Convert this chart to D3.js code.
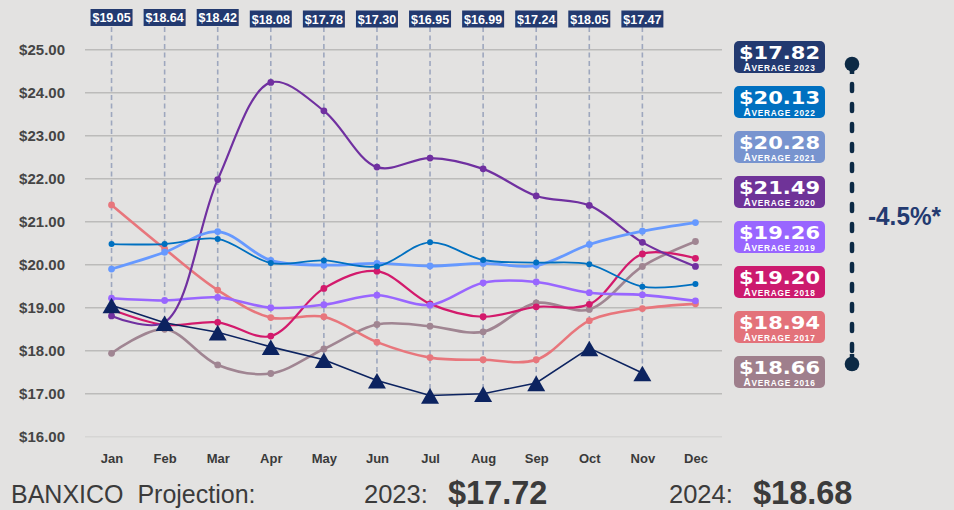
<!DOCTYPE html>
<html>
<head>
<meta charset="utf-8">
<script src="https://cdn.jsdelivr.net/npm/d3@7"></script>
<style>
  html, body { margin: 0; padding: 0; background: #e3e2e1; }
  svg { display: block; font-family: "Liberation Sans", Arial, sans-serif; }
</style>
</head>
<body>
<svg id="chart" width="954" height="510"></svg>
<script>
// Monthly average exchange rate (MXN per USD), 2016–2023
const months = ["Jan","Feb","Mar","Apr","May","Jun","Jul","Aug","Sep","Oct","Nov","Dec"];

const v2023 = [19.05, 18.64, 18.42, 18.08, 17.78, 17.30, 16.95, 16.99, 17.24, 18.05, 17.47];
const v2022 = [20.47, 20.47, 20.59, 20.03, 20.09, 19.95, 20.51, 20.10, 20.04, 20.00, 19.48, 19.54];
const v2021 = [19.89, 20.28, 20.76, 20.09, 19.98, 20.02, 19.96, 20.02, 19.97, 20.46, 20.77, 20.97];
const v2020 = [18.80, 18.65, 21.97, 24.23, 23.57, 22.26, 22.47, 22.22, 21.59, 21.37, 20.51, 19.95];
const v2019 = [19.21, 19.16, 19.23, 18.99, 19.06, 19.28, 19.05, 19.57, 19.59, 19.34, 19.29, 19.15];
const v2018 = [18.95, 18.59, 18.65, 18.33, 19.44, 19.84, 19.08, 18.78, 19.01, 19.07, 20.24, 20.14];
const v2017 = [21.38, 20.36, 19.40, 18.76, 18.78, 18.19, 17.83, 17.78, 17.78, 18.69, 18.97, 19.08];
const v2016 = [17.93, 18.49, 17.66, 17.46, 18.03, 18.60, 18.56, 18.43, 19.10, 18.95, 19.95, 20.53];

const yTicks = [16, 17, 18, 19, 20, 21, 22, 23, 24, 25];

const legendYears = ["2023", "2022", "2021", "2020", "2019", "2018", "2017", "2016"];
const legendAverages = ["$17.82", "$20.13", "$20.28", "$21.49", "$19.26", "$19.20", "$18.94", "$18.66"];
const legendColors = ["#233a70", "#0070c0", "#7894cf", "#6f3398", "#9966ff", "#cc1a6e", "#e3727a", "#9f7f8c"];

const changeLabel = "-4.5%*";
const projectionTitle = "BANXICO  Projection:";
const projectionYears = ["2023:", "2024:"];
const projectionValues = ["$17.72", "$18.68"];

// Historical series drawn as smoothed lines (oldest first so newer years sit on top)
const history = [
  { year: "2016", values: v2016, color: "#a08592", width: 2.6, r: 3.4 },
  { year: "2017", values: v2017, color: "#e8767c", width: 2.6, r: 3.4 },
  { year: "2018", values: v2018, color: "#d31a6c", width: 2.2, r: 3.4 },
  { year: "2019", values: v2019, color: "#9966ff", width: 2.6, r: 3.4 },
  { year: "2020", values: v2020, color: "#7030a0", width: 2.2, r: 3.4 },
  { year: "2021", values: v2021, color: "#6699ff", width: 2.8, r: 3.4 },
  { year: "2022", values: v2022, color: "#0070c0", width: 1.8, r: 3.0 }
];

const svg = d3.select("#chart");

const plotLeft = 85, plotRight = 722, plotTop = 49.3, plotBottom = 436.3;

const x = d3.scalePoint().domain(months).range([plotLeft, plotRight]).padding(0.5);
const y = d3.scaleLinear().domain([16, 25]).range([plotBottom, plotTop]);

// Y axis with gridlines
const yAxis = svg.append("g")
  .attr("transform", `translate(${plotLeft},0)`)
  .call(d3.axisLeft(y)
    .tickValues(yTicks)
    .tickFormat(d => "$" + d.toFixed(2))
    .tickSizeInner(-(plotRight - plotLeft))
    .tickSizeOuter(0)
    .tickPadding(20));
yAxis.select(".domain").remove();
yAxis.selectAll(".tick line")
  .attr("stroke", d => d === 16 ? "#d6d5d4" : "#bcbbba")
  .attr("stroke-width", 1.4);
yAxis.selectAll(".tick text")
  .attr("fill", "#454545")
  .attr("font-size", 15)
  .attr("font-weight", "bold")
  .attr("font-family", "'Liberation Sans', Arial, sans-serif");

// X axis (month labels)
const xAxis = svg.append("g")
  .attr("transform", "translate(0,454)")
  .call(d3.axisBottom(x).tickSize(0).tickPadding(0));
xAxis.select(".domain").remove();
xAxis.selectAll(".tick text")
  .attr("fill", "#3a3a3a")
  .attr("font-size", 13)
  .attr("font-weight", "bold")
  .attr("font-family", "'Liberation Sans', Arial, sans-serif");

// 2023 monthly value callouts with dashed drop lines
const tri = d3.symbol().type(d3.symbolTriangle).size(140);
const triOffset = 3;
const data2023 = v2023.map((v, i) => ({ m: months[i], v }));

svg.append("g").selectAll("line")
  .data(data2023)
  .join("line")
  .attr("x1", d => x(d.m))
  .attr("x2", d => x(d.m))
  .attr("y1", 27)
  .attr("y2", d => y(d.v) - 6)
  .attr("stroke", "#9ea7be")
  .attr("stroke-width", 1.6)
  .attr("stroke-dasharray", "5,3.5");

const callouts = svg.append("g").selectAll("g")
  .data(data2023)
  .join("g")
  .attr("transform", (d, i) => `translate(${x(d.m)},${i < 3 ? -1.5 : 0})`);
callouts.append("rect")
  .attr("x", -21).attr("y", 10.5)
  .attr("width", 42).attr("height", 17)
  .attr("fill", "#233a70");
callouts.append("text")
  .attr("x", 0).attr("y", 23.5)
  .attr("text-anchor", "middle")
  .attr("fill", "#ffffff")
  .attr("font-size", 12.5)
  .attr("font-weight", "bold")
  .text(d => "$" + d.v.toFixed(2));

// Historical lines
const smooth = d3.line()
  .x((d, i) => x(months[i]))
  .y(d => y(d))
  .curve(d3.curveCatmullRom.alpha(0.5));

const series = svg.append("g").selectAll("g")
  .data(history)
  .join("g");
series.append("path")
  .attr("d", d => smooth(d.values))
  .attr("fill", "none")
  .attr("stroke", d => d.color)
  .attr("stroke-width", d => d.width)
  .attr("stroke-linejoin", "round");
series.each(function (s) {
  d3.select(this).selectAll("circle")
    .data(s.values)
    .join("circle")
    .attr("cx", (d, i) => x(months[i]))
    .attr("cy", d => y(d))
    .attr("r", s.r)
    .attr("fill", s.color);
});

// 2023 line with triangle markers
const straight = d3.line()
  .x(d => x(d.m))
  .y(d => y(d.v));
svg.append("path")
  .attr("d", straight(data2023))
  .attr("fill", "none")
  .attr("stroke", "#0c2360")
  .attr("stroke-width", 1.6);
svg.append("g").selectAll("path")
  .data(data2023)
  .join("path")
  .attr("d", tri)
  .attr("transform", d => `translate(${x(d.m)},${y(d.v) + triOffset})`)
  .attr("fill", "#0c2360");

// Legend: yearly averages
const legendX = 734, legendTop = 41, legendStep = 45, legendW = 91, legendH = 32;
const legend = svg.append("g").selectAll("g")
  .data(legendYears.map((yr, i) => ({ yr, avg: legendAverages[i], color: legendColors[i] })))
  .join("g")
  .attr("transform", (d, i) => `translate(${legendX},${legendTop + i * legendStep})`);
legend.append("rect")
  .attr("width", legendW).attr("height", legendH)
  .attr("rx", 5).attr("ry", 5)
  .attr("fill", d => d.color);
legend.append("text")
  .attr("x", legendW / 2).attr("y", 18.2)
  .attr("text-anchor", "middle")
  .attr("fill", "#ffffff")
  .attr("font-family", "'DejaVu Sans', sans-serif")
  .attr("font-weight", "bold")
  .attr("font-size", 18.5)
  .attr("textLength", 81)
  .attr("lengthAdjust", "spacingAndGlyphs")
  .text(d => d.avg);
const sub = legend.append("text")
  .attr("x", legendW / 2).attr("y", 29.5)
  .attr("text-anchor", "middle")
  .attr("fill", "#ffffff")
  .attr("font-weight", "bold")
  .attr("letter-spacing", 0.75);
sub.append("tspan").attr("font-size", 10).text("A");
sub.append("tspan").attr("font-size", 8.3).text(d => "VERAGE " + d.yr);

// Change bracket between the 2023 and 2016 averages
const bx = 852;
const bTop = legendTop + legendH / 2 + 7;
const bBottom = legendTop + 7 * legendStep + 8;
svg.append("line")
  .attr("x1", bx).attr("x2", bx)
  .attr("y1", bTop).attr("y2", bBottom)
  .attr("stroke", "#0d2a45")
  .attr("stroke-width", 4.5)
  .attr("stroke-linecap", "round")
  .attr("stroke-dasharray", "7,13");
svg.append("line")
  .attr("x1", bx).attr("x2", bx)
  .attr("y1", bTop).attr("y2", bTop + 10)
  .attr("stroke", "#0d2a45").attr("stroke-width", 4.5);
svg.append("line")
  .attr("x1", bx).attr("x2", bx)
  .attr("y1", bBottom - 10).attr("y2", bBottom)
  .attr("stroke", "#0d2a45").attr("stroke-width", 4.5);
svg.append("circle").attr("cx", bx).attr("cy", bTop).attr("r", 7.3).attr("fill", "#0d2a45");
svg.append("circle").attr("cx", bx).attr("cy", bBottom).attr("r", 7.3).attr("fill", "#0d2a45");
svg.append("text")
  .attr("x", 868).attr("y", 225)
  .attr("fill", "#233a70")
  .attr("font-weight", "bold")
  .attr("font-size", 25)
  .attr("textLength", 73)
  .attr("lengthAdjust", "spacingAndGlyphs")
  .text(changeLabel);

// Projection footer
const footer = svg.append("g").attr("fill", "#3b3b3b");
footer.append("text")
  .attr("x", 11).attr("y", 503)
  .attr("font-size", 25)
  .attr("xml:space", "preserve")
  .style("white-space", "pre")
  .text(projectionTitle);
[364, 669].forEach((px, i) => {
  footer.append("text")
    .attr("x", px).attr("y", 503)
    .attr("font-size", 25.5)
    .text(projectionYears[i]);
});
[448, 753].forEach((px, i) => {
  footer.append("text")
    .attr("x", px).attr("y", 504)
    .attr("font-size", 32.5)
    .attr("font-weight", "bold")
    .text(projectionValues[i]);
});
</script>
</body>
</html>
